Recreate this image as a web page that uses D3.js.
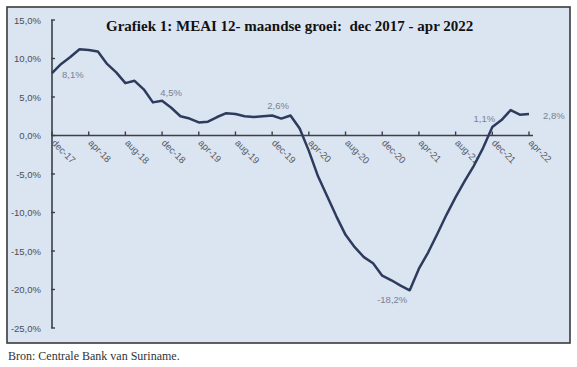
<!DOCTYPE html>
<html>
<head>
<meta charset="utf-8">
<script src="https://cdn.jsdelivr.net/npm/d3@7"></script>
<style>
  body { margin: 0; background: #fff; }
  svg { display: block; }
</style>
</head>
<body>
<div id="chart"></div>
<script>
// MEAI 12-maandse groei, dec 2017 - apr 2022
var months = ["dec-17","jan-18","feb-18","mrt-18","apr-18","mei-18","jun-18","jul-18","aug-18","sep-18","okt-18","nov-18",
  "dec-18","jan-19","feb-19","mrt-19","apr-19","mei-19","jun-19","jul-19","aug-19","sep-19","okt-19","nov-19",
  "dec-19","jan-20","feb-20","mrt-20","apr-20","mei-20","jun-20","jul-20","aug-20","sep-20","okt-20","nov-20",
  "dec-20","jan-21","feb-21","mrt-21","apr-21","mei-21","jun-21","jul-21","aug-21","sep-21","okt-21","nov-21",
  "dec-21","jan-22","feb-22","mrt-22","apr-22"];

var groei = [8.1, 9.3, 10.2, 11.2, 11.1, 10.9, 9.3, 8.2, 6.8, 7.1, 6.0, 4.3,
  4.5, 3.6, 2.5, 2.2, 1.7, 1.8, 2.4, 2.9, 2.8, 2.5, 2.4, 2.5,
  2.6, 2.2, 2.6, 0.9, -2.0, -5.3, -7.9, -10.5, -12.9, -14.5, -15.8, -16.6,
  -18.2, -18.8, -19.5, -20.1, -17.3, -15.2, -12.8, -10.3, -8.0, -5.9, -3.9, -1.6,
  1.1, 2.0, 3.3, 2.7, 2.8];

var tickLabels = ["dec-17","apr-18","aug-18","dec-18","apr-19","aug-19","dec-19",
  "apr-20","aug-20","dec-20","apr-21","aug-21","dec-21","apr-22"];

var yTicks = [15, 10, 5, 0, -5, -10, -15, -20, -25];

// data labels shown on the chart (month, value)
var labelMonths = ["dec-17","dec-18","dec-19","dec-20","dec-21","apr-22"];

var W = 577, H = 367;
var fmt = function(v) { return d3.format(".1f")(v).replace(".", ",").replace("−", "-") + "%"; };

var svg = d3.select("#chart").append("svg")
  .attr("width", W)
  .attr("height", H);

// panel
svg.append("rect")
  .attr("x", 7).attr("y", 7)
  .attr("width", 563).attr("height", 336)
  .attr("fill", "#dbe4f1")
  .attr("stroke", "#3a3a3a")
  .attr("stroke-width", 1.6);

var x = d3.scalePoint().domain(months).range([52, 529]);
var y = d3.scaleLinear().domain([-25, 15]).range([328, 20]);

// y axis
var yAxis = svg.append("g");
yAxis.append("line")
  .attr("x1", 52).attr("x2", 52)
  .attr("y1", y(15)).attr("y2", y(-25))
  .attr("stroke", "#3b3f47").attr("stroke-width", 1.6);
yAxis.selectAll(".yt").data(yTicks).enter().append("line")
  .attr("x1", 51).attr("x2", 55)
  .attr("y1", function(d) { return y(d); })
  .attr("y2", function(d) { return y(d); })
  .attr("stroke", "#3b3f47").attr("stroke-width", 1.4);
yAxis.selectAll(".yl").data(yTicks).enter().append("text")
  .attr("x", 41)
  .attr("y", function(d) { return y(d) + 3.5; })
  .attr("text-anchor", "end")
  .attr("font-family", "Liberation Sans, Arial, sans-serif")
  .attr("font-size", 9.5)
  .attr("fill", "#4a4f58")
  .text(fmt);

// x axis at 0
var xAxis = svg.append("g");
xAxis.append("line")
  .attr("x1", 52).attr("x2", 533)
  .attr("y1", y(0)).attr("y2", y(0))
  .attr("stroke", "#3b3f47").attr("stroke-width", 1.6);
xAxis.selectAll(".xt").data(tickLabels).enter().append("line")
  .attr("x1", function(d) { return x(d); })
  .attr("x2", function(d) { return x(d); })
  .attr("y1", y(0) - 4).attr("y2", y(0))
  .attr("stroke", "#3b3f47").attr("stroke-width", 1.4);
xAxis.selectAll(".xl").data(tickLabels).enter().append("text")
  .attr("transform", function(d) { return "translate(" + (x(d) - 1) + "," + (y(0) + 8) + ") rotate(45)"; })
  .attr("font-family", "Liberation Sans, Arial, sans-serif")
  .attr("font-size", 9.5)
  .attr("fill", "#555a63")
  .text(function(d) { return d; });

// line
var line = d3.line()
  .x(function(d, i) { return x(months[i]); })
  .y(function(d) { return y(d); });

svg.append("path")
  .datum(groei)
  .attr("d", line)
  .attr("fill", "none")
  .attr("stroke", "#2d3c5e")
  .attr("stroke-width", 2.5)
  .attr("stroke-linejoin", "round");

// data labels
var labelOffset = {
  "dec-17": [10, 5, "start"],
  "dec-18": [9, -5, "middle"],
  "dec-19": [6, -6, "middle"],
  "dec-20": [10, 27, "middle"],
  "dec-21": [-8, -5, "middle"],
  "apr-22": [14, 5, "start"]
};
svg.selectAll(".dl").data(labelMonths).enter().append("text")
  .attr("x", function(m) { return x(m) + labelOffset[m][0]; })
  .attr("y", function(m) { return y(groei[months.indexOf(m)]) + labelOffset[m][1]; })
  .attr("text-anchor", function(m) { return labelOffset[m][2]; })
  .attr("font-family", "Liberation Sans, Arial, sans-serif")
  .attr("font-size", 9.5)
  .attr("fill", "#7a8290")
  .text(function(m) { return fmt(groei[months.indexOf(m)]); });

// title
svg.append("text")
  .attr("x", 106).attr("y", 31)
  .attr("font-family", "Liberation Serif, Times New Roman, serif")
  .attr("font-weight", "bold")
  .attr("font-size", 15)
  .attr("fill", "#111")
  .attr("xml:space", "preserve")
  .style("white-space", "pre")
  .text("Grafiek 1: MEAI 12- maandse groei:  dec 2017 - apr 2022");

// source
svg.append("text")
  .attr("x", 8).attr("y", 360)
  .attr("font-family", "Liberation Serif, Times New Roman, serif")
  .attr("font-size", 12)
  .attr("fill", "#333")
  .text("Bron: Centrale Bank van Suriname.");
</script>
</body>
</html>
